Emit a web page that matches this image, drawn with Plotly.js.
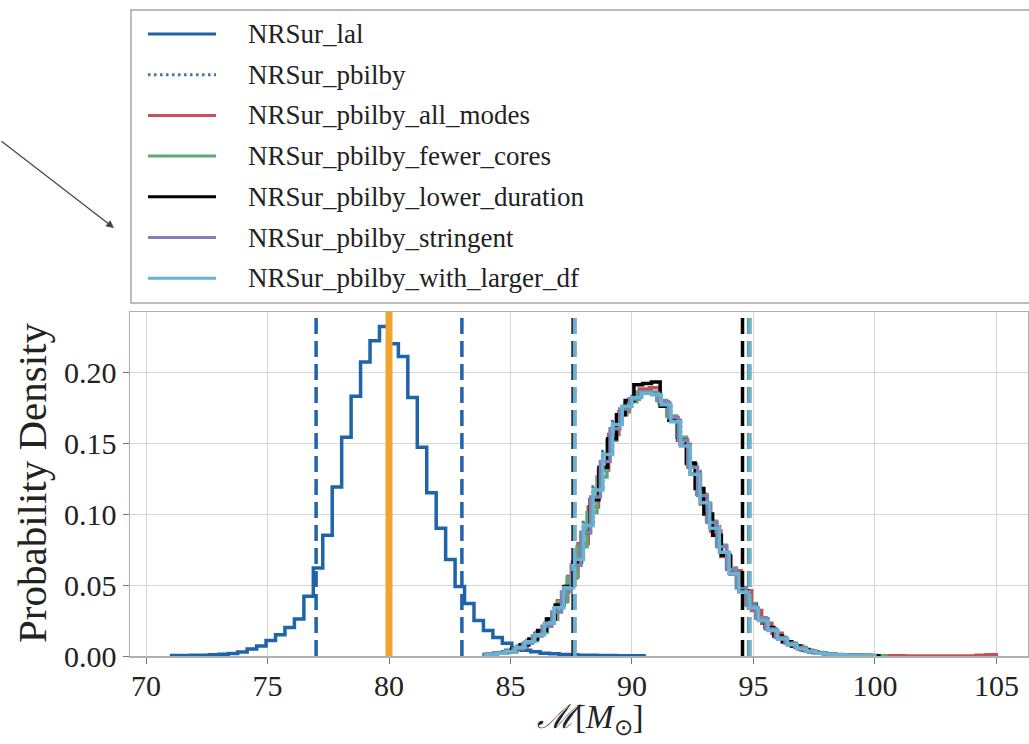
<!DOCTYPE html>
<html><head><meta charset="utf-8">
<script src="https://cdn.plot.ly/plotly-3.0.1.min.js"></script>
<style>html,body{margin:0;padding:0;background:#fff;}#chart{width:1029px;height:744px;}</style>
</head><body><div id="chart"></div>
<script>
// ---------------- data ----------------
const xTickVals = [70, 75, 80, 85, 90, 95, 100, 105];
const yTickVals = [0.00, 0.05, 0.10, 0.15, 0.20];

const seriesNames = ["NRSur_lal", "NRSur_pbilby", "NRSur_pbilby_all_modes", "NRSur_pbilby_fewer_cores",
  "NRSur_pbilby_lower_duration", "NRSur_pbilby_stringent", "NRSur_pbilby_with_larger_df"];

// histogram bins: first edge and bin width for each series
const binStarts = [71.05, 84.0, 84.0, 84.05, 83.96, 83.9, 84.0];
const binWidths = [0.389, 0.4, 0.42, 0.41, 0.36, 0.4, 0.4];

const lalDensity = [0.0003,0.0003,0.0005,0.0006,0.0008,0.0012,0.0018,0.0028,0.005,0.007,
  0.011,0.015,0.020,0.026,0.042,0.062,0.085,0.119,0.154,0.183,
  0.207,0.222,0.232,0.220,0.211,0.182,0.147,0.115,0.090,0.068,
  0.049,0.037,0.025,0.018,0.013,0.009,0.006,0.004,0.003,0.002,
  0.0015,0.0011,0.0008,0.0006,0.0005,0.0004,0.0003,0.0002,0.0002,0.0001];
const pbilbyDensity = [0.001,0.002,0.004,0.006,0.010,0.016,0.024,0.035,0.050,0.070,
  0.094,0.119,0.144,0.165,0.178,0.184,0.187,0.185,0.178,0.166,
  0.149,0.130,0.110,0.091,0.074,0.059,0.046,0.035,0.026,0.018,
  0.012,0.008,0.005,0.003,0.002,0.0013,0.0009,0.0006,0.0004,0.0003];
const allModesDensity = [0.001,0.002,0.003,0.006,0.011,0.017,0.026,0.039,0.056,0.079,
  0.105,0.131,0.156,0.172,0.181,0.188,0.189,0.178,0.166,0.149,
  0.128,0.107,0.088,0.070,0.060,0.046,0.032,0.023,0.016,0.010,
  0.007,0.004,0.0025,0.0015,0.001,0.0007,0.0005,0.0003,0.0002,0.0001,
  0.0001,0,0,0,0,0,0,0,0.0005,0.0008];
const fewerCoresDensity = [0.001,0.002,0.004,0.007,0.011,0.017,0.026,0.038,0.055,0.077,
  0.101,0.126,0.152,0.170,0.179,0.186,0.186,0.180,0.169,0.154,
  0.135,0.114,0.095,0.078,0.062,0.048,0.037,0.027,0.019,0.013,
  0.009,0.006,0.0035,0.0022,0.0014,0.0009,0.0006,0.0004,0.0003,0.0002];
const lowerDurationDensity = [0.001,0.002,0.003,0.005,0.008,0.012,0.018,0.026,0.036,0.049,
  0.066,0.087,0.110,0.133,0.153,0.170,0.180,0.191,0.192,0.193,
  0.176,0.166,0.152,0.136,0.118,0.100,0.085,0.071,0.058,0.046,
  0.036,0.027,0.020,0.014,0.010,0.007,0.0045,0.003,0.002,0.0013,
  0.0009,0.0006,0.0004,0.0003,0.0002];
const stringentDensity = [0.001,0.002,0.003,0.005,0.009,0.014,0.021,0.031,0.045,0.064,
  0.087,0.112,0.137,0.160,0.174,0.181,0.186,0.185,0.179,0.168,
  0.152,0.133,0.113,0.094,0.077,0.061,0.048,0.036,0.027,0.019,
  0.013,0.009,0.006,0.0035,0.0022,0.0014,0.0009,0.0006,0.0004,0.0003];
const largerDfDensity = [0.001,0.002,0.003,0.006,0.010,0.015,0.023,0.034,0.048,0.068,
  0.092,0.117,0.142,0.163,0.176,0.182,0.185,0.184,0.177,0.165,
  0.148,0.128,0.108,0.090,0.073,0.058,0.045,0.034,0.025,0.018,
  0.012,0.008,0.005,0.003,0.002,0.0013,0.0009,0.0006,0.0004,0.0003];

// 90% credible bounds for each series, and the injected value
const lowerBounds = [77.0, 87.62, 87.64, 87.60, 87.58, 87.63, 87.65];
const upperBounds = [83.0, 94.82, 94.84, 94.80, 94.55, 94.83, 94.85];
const injectedValue = 80.0;

// ---------------- styles ----------------
const seriesDensities = [lalDensity, pbilbyDensity, allModesDensity, fewerCoresDensity,
  lowerDurationDensity, stringentDensity, largerDfDensity];
const seriesColors = ["#1f63a8", "#4a72a8", "#c4505a", "#5fa876", "#000000", "#8480b4", "#66b3d2"];
const seriesDash = ["solid", "2px,3px", "solid", "solid", "solid", "solid", "solid"];
const FONT = "Liberation Serif, Times New Roman, serif";

// plot geometry (pixels)
const W = 1029, H = 744, L = 130, R = 1028, T = 312, B = 656;
const px2x = p => (p - L) / (R - L);
const px2y = p => (B - p) / (B - T);

function stepXY(start, width, vals) {
  const xs = [start], ys = [0];
  vals.forEach((v, i) => { xs.push(start + i * width); ys.push(v); });
  xs.push(start + vals.length * width); ys.push(0);
  return {xs, ys};
}

const traces = seriesDensities.map((d, i) => {
  const s = stepXY(binStarts[i], binWidths[i], d);
  return {
    type: "scatter", mode: "lines", x: s.xs, y: s.ys, line: {shape: "hv", color: seriesColors[i], width: 3.5, dash: seriesDash[i]},
    name: seriesNames[i], showlegend: false, hoverinfo: "skip"
  };
});

const shapes = [];
// credible interval lines
seriesNames.forEach((n, i) => {
  [lowerBounds[i], upperBounds[i]].forEach(v => {
    shapes.push({type: "line", xref: "x", yref: "paper", x0: v, x1: v, y0: 0, y1: 1,
      line: {color: seriesColors[i], width: 3.5, dash: "16px,7px"}});
  });
});
// injected value
shapes.push({type: "line", xref: "x", yref: "paper", x0: injectedValue, x1: injectedValue, y0: 0, y1: 1,
  line: {color: "#f0a530", width: 7}});

// legend box
shapes.push({type: "rect", xref: "paper", yref: "paper", x0: px2x(131), x1: 1.02, y0: px2y(303), y1: px2y(10),
  line: {color: "#a8a8a8", width: 1.5}, fillcolor: "rgba(255,255,255,0)", layer: "below"});

const annotations = [];
seriesNames.forEach((n, i) => {
  const py = 34 + 40.7 * i;
  shapes.push({type: "line", xref: "paper", yref: "paper", x0: px2x(148), x1: px2x(216), y0: px2y(py), y1: px2y(py),
    line: {color: seriesColors[i], width: 3, dash: seriesDash[i] === "solid" ? "solid" : "2.5px,3.5px"}});
  annotations.push({xref: "paper", yref: "paper", x: px2x(246), y: px2y(py), xanchor: "left", yanchor: "middle",
    text: n, showarrow: false, font: {family: FONT, size: 27, color: "#222"}});
});

// axis titles
annotations.push({xref: "paper", yref: "paper", x: px2x(32), y: px2y(483), xanchor: "center", yanchor: "middle",
  text: "Probability Density", textangle: -90, showarrow: false, font: {family: FONT, size: 41, color: "#222"}});
annotations.push({xref: "paper", yref: "paper", x: px2x(590), y: 0, yshift: -(H - B) + 2, xanchor: "center", yanchor: "bottom",
  text: "<i>ℳ</i>[<i>M</i><sub>⊙</sub>]", showarrow: false, font: {family: FONT, size: 33, color: "#222"}});

// arrow pointing at the legend
annotations.push({xref: "paper", yref: "paper", x: px2x(114), y: px2y(228), ax: -114, ay: -88, axref: "pixel", ayref: "pixel",
  text: "", showarrow: true, arrowhead: 2, arrowsize: 1.3, arrowwidth: 1.2, arrowcolor: "#444"});

const axisCommon = {
  showgrid: true, gridcolor: "#d6d6d6", gridwidth: 1, zeroline: false,
  showline: true, mirror: true, linecolor: "#b0b0b0", linewidth: 1.5,
  ticks: "outside", ticklen: 6, tickwidth: 1, tickcolor: "#777",
  tickfont: {family: FONT, size: 30, color: "#222"}
};

const layout = {
  width: W, height: H,
  margin: {l: L, r: W - R, t: T, b: H - B, pad: 0},
  paper_bgcolor: "#fff", plot_bgcolor: "#fff",
  showlegend: false,
  font: {family: FONT},
  xaxis: Object.assign({}, axisCommon, {range: [69.34, 106.3], tickmode: "array", tickvals: xTickVals,
    ticktext: xTickVals.map(String), ticklabelstandoff: -4}),
  yaxis: Object.assign({}, axisCommon, {range: [0, 0.2423], tickmode: "array", tickvals: yTickVals,
    ticktext: yTickVals.map(v => v.toFixed(2))}),
  shapes, annotations
};

Plotly.newPlot("chart", traces, layout, {staticPlot: true, displayModeBar: false});
</script>
</body></html>
